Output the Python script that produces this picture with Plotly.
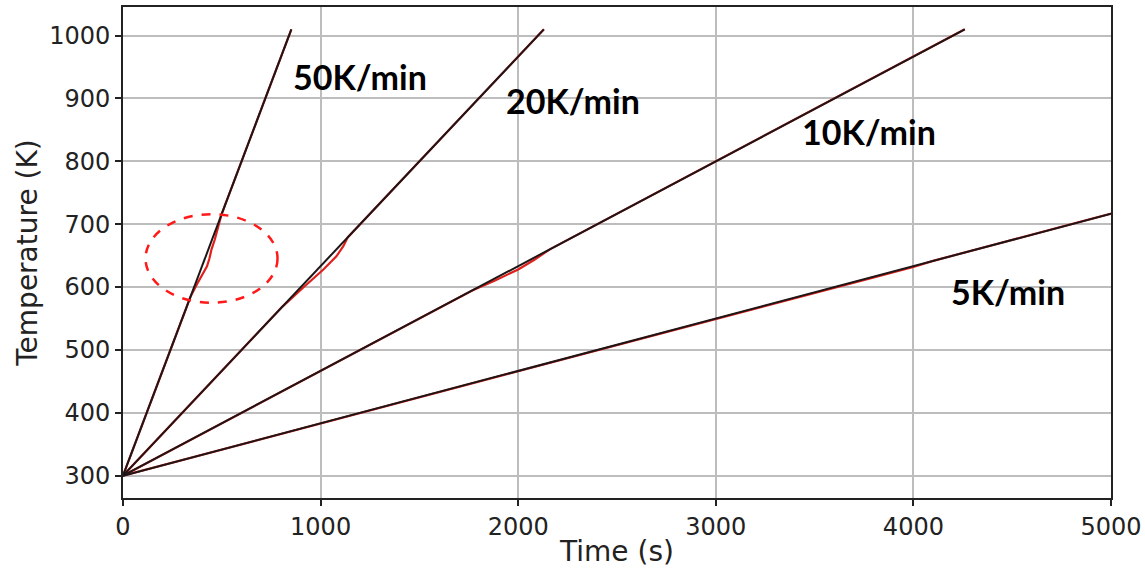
import plotly.graph_objects as go

# Linear set-point ramps (start / end of each heating programme)
ramp_labels = ["50K/min", "20K/min", "10K/min", "5K/min"]
ramp_time = {
    "50K/min": [0, 852],
    "20K/min": [0, 2130],
    "10K/min": [0, 4260],
    "5K/min": [0, 8520],
}
ramp_temp = {
    "50K/min": [300, 1010],
    "20K/min": [300, 1010],
    "10K/min": [300, 1010],
    "5K/min": [300, 1010],
}

# Measured sample temperature (lags the set-point around 600-700 K)
meas_time = {
    "50K/min": [0, 342, 375, 400, 425, 437, 448, 465, 484, 499, 852],
    "20K/min": [0, 807, 918, 1014, 1080, 1115, 1137, 2130],
    "10K/min": [0, 1770, 1880, 2000, 2080, 2160, 4260],
    "5K/min": [0, 3600, 3800, 4000, 4100, 8520],
}
meas_temp = {
    "50K/min": [300, 585, 605, 620, 633, 645, 660, 676, 697, 716, 1010],
    "20K/min": [300, 569, 601, 628, 649, 665, 679, 1010],
    "10K/min": [300, 595, 610, 628, 643, 660, 1010],
    "5K/min": [300, 600, 615.5, 632, 641.7, 1010],
}

# Label anchor positions (data coordinates)
label_x = [1200, 2278, 3775, 4481]
label_y = [935, 896, 847, 593]

fig = go.Figure()

for name in ramp_labels:
    fig.add_trace(go.Scatter(
        x=meas_time[name], y=meas_temp[name], mode="lines",
        line=dict(color="#e0201c", width=2.2), showlegend=False,
        hoverinfo="skip"))

for name in ramp_labels:
    fig.add_trace(go.Scatter(
        x=ramp_time[name], y=ramp_temp[name], mode="lines",
        line=dict(color="#1e1616", width=2), showlegend=False,
        hoverinfo="skip"))

for name, lx, ly in zip(ramp_labels, label_x, label_y):
    fig.add_annotation(
        x=lx, y=ly, xref="x", yref="y", text=f"<b>{name}</b>",
        showarrow=False,
        font=dict(family="Lato, 'Open Sans', sans-serif", size=34, color="#000000"))

# Dashed ellipse around the 50K/min deviation
fig.add_shape(
    type="circle", xref="x", yref="y", x0=114, x1=782, y0=575, y1=716,
    line=dict(color="#ff1a1a", width=2.5, dash="dash"))

axis_common = dict(
    showline=True, linecolor="#222222", linewidth=1.6, mirror=True,
    showgrid=True, gridcolor="#bdbdbd", gridwidth=1.5,
    ticks="outside", ticklen=6, tickwidth=1.5, tickcolor="#222222",
    zeroline=False, automargin=False,
    tickfont=dict(family="DejaVu Sans", size=24, color="#222222"),
)

fig.update_xaxes(
    range=[0, 5000], tickvals=[0, 1000, 2000, 3000, 4000, 5000],
    title=dict(text="Time (s)", standoff=2,
               font=dict(family="DejaVu Sans", size=28, color="#222222")),
    **axis_common)
fig.update_yaxes(
    range=[264.5, 1045.5], tickvals=[300, 400, 500, 600, 700, 800, 900, 1000],
    title=dict(text="Temperature (K)", standoff=4,
               font=dict(family="DejaVu Sans", size=28, color="#222222")),
    **axis_common)

fig.update_layout(
    width=1145, height=569,
    margin=dict(l=123, r=34, t=7, b=71),
    paper_bgcolor="white", plot_bgcolor="white",
)

fig.write_html("out.html")
